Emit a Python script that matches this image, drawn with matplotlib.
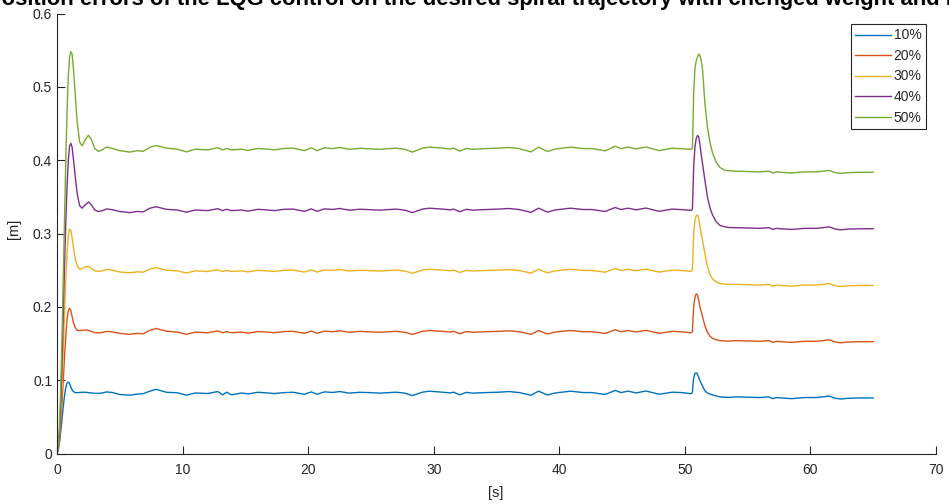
import numpy as np
import matplotlib
matplotlib.use("Agg")
import matplotlib.pyplot as plt

plt.rcParams['font.family'] = ['Liberation Sans', 'DejaVu Sans']

title_text = "Position errors of the LQG control on the desired spiral trajectory with chenged weight and mass"
series_labels = ["10%", "20%", "30%", "40%", "50%"]
colors = ["#0072BD", "#D95319", "#EDB120", "#7E2F8E", "#77AC30"]
x_ticks = [0, 10, 20, 30, 40, 50, 60, 70]
x_ticklabels = ["0", "10", "20", "30", "40", "50", "60", "70"]
y_ticks = [0, 0.1, 0.2, 0.3, 0.4, 0.5, 0.6]
y_ticklabels = ["0", "0.1", "0.2", "0.3", "0.4", "0.5", "0.6"]

t_early = [0, 0.1, 0.2, 0.3, 0.4, 0.5, 0.6, 0.7, 0.8, 0.9, 1.0, 1.1, 1.2, 1.3,
           1.45, 1.6, 1.8, 2.0, 2.25, 2.5, 2.75, 3.0]
t_mid = [3.3, 3.6, 3.95, 4.4, 5.0, 5.8, 6.4, 6.85, 7.4, 7.9, 8.7, 9.6, 10.3, 11.0,
         12.0, 12.8, 13.2, 13.5, 13.9, 14.7, 15.2, 16.0, 16.8, 17.3, 18.1, 18.8,
         19.7, 20.25, 20.7, 21.3, 21.95, 22.5, 23.3, 24.1, 24.9, 25.7, 27.0, 27.7,
         28.3, 29.1, 29.65, 30.7, 31.3, 31.6, 32.05, 32.6, 33.1, 34.2, 35.2, 36.0,
         36.8, 37.75, 38.35, 39.05, 39.7, 40.9, 41.9, 42.6, 43.65, 44.45, 44.9,
         45.5, 46.1, 46.9, 47.95, 49.0, 49.8, 50.5]
t_jump = [50.6, 50.65, 50.7, 50.8, 50.9, 51.0, 51.1, 51.2, 51.3, 51.4, 51.6, 51.8,
          52.0, 52.2, 52.5, 52.8, 53.2, 53.6]
t_late = [54.0, 55.0, 56.0, 56.7, 57.0, 57.3, 57.6, 58.5, 59.5, 60.5, 61.5, 62.0,
          62.4, 63.0, 64.0, 65.0]

err_10 = [0, 0.005, 0.015, 0.03, 0.047, 0.064, 0.079, 0.09, 0.096, 0.0975, 0.0955, 0.091,
          0.087, 0.0845, 0.083, 0.083, 0.0832, 0.0835, 0.0835, 0.083, 0.0825, 0.082,
          0.0820, 0.0825, 0.0840, 0.0832, 0.0805, 0.0795, 0.0810, 0.0815, 0.0850, 0.0875,
          0.0835, 0.0828, 0.0795, 0.0825, 0.0818, 0.0845, 0.0800, 0.0836, 0.0800, 0.0825,
          0.0812, 0.0835, 0.0825, 0.0818, 0.0830, 0.0835, 0.0808, 0.0840, 0.0808, 0.0840,
          0.0832, 0.0845, 0.0823, 0.0835, 0.0830, 0.0823, 0.0836, 0.0823, 0.0790, 0.0836,
          0.0850, 0.0836, 0.0826, 0.0836, 0.0800, 0.0833, 0.0823, 0.0831, 0.0836, 0.0845,
          0.0831, 0.0795, 0.0850, 0.0798, 0.0826, 0.0850, 0.0831, 0.0831, 0.0805, 0.0860,
          0.0831, 0.0850, 0.0826, 0.0852, 0.0808, 0.0836, 0.0830, 0.0815,
          0.0835, 0.095, 0.103, 0.109, 0.110, 0.1085, 0.104, 0.0995, 0.0957, 0.092,
          0.0855, 0.0825, 0.081, 0.0798, 0.0785, 0.0772, 0.0767, 0.0765,
          0.0773, 0.0768, 0.0763, 0.0773, 0.0748, 0.0763, 0.0758, 0.0748, 0.0763, 0.0763,
          0.0783, 0.0753, 0.0743, 0.0753, 0.0758, 0.0758]

err_20 = [0, 0.006, 0.02, 0.042, 0.07, 0.10, 0.132, 0.16, 0.183, 0.195, 0.198, 0.195,
          0.187, 0.179, 0.172, 0.168, 0.1676, 0.168, 0.1685, 0.168, 0.1665, 0.1648,
          0.1645, 0.1650, 0.1665, 0.1658, 0.1638, 0.1625, 0.1638, 0.1632, 0.1680, 0.1705,
          0.1668, 0.1655, 0.1625, 0.1655, 0.1647, 0.1671, 0.1647, 0.1663, 0.1647, 0.1655,
          0.1641, 0.1663, 0.1655, 0.1647, 0.1663, 0.1666, 0.1639, 0.1669, 0.1639, 0.1669,
          0.1661, 0.1673, 0.1653, 0.1665, 0.1659, 0.1653, 0.1666, 0.1653, 0.1623, 0.1666,
          0.1677, 0.1666, 0.1657, 0.1666, 0.1633, 0.1663, 0.1653, 0.1661, 0.1666, 0.1673,
          0.1661, 0.1625, 0.1677, 0.1629, 0.1657, 0.1677, 0.1661, 0.1661, 0.1637, 0.1687,
          0.1661, 0.1677, 0.1657, 0.1679, 0.1639, 0.1666, 0.1659, 0.1645,
          0.166, 0.185, 0.200, 0.213, 0.2176, 0.2165, 0.209, 0.200, 0.1935, 0.187,
          0.174, 0.165, 0.160, 0.157, 0.155, 0.154, 0.1535, 0.1532,
          0.154, 0.1535, 0.153, 0.154, 0.1515, 0.153, 0.1525, 0.1515, 0.153, 0.153,
          0.155, 0.152, 0.151, 0.152, 0.1525, 0.1525]

err_30 = [0, 0.007, 0.025, 0.055, 0.095, 0.14, 0.19, 0.235, 0.272, 0.297, 0.306, 0.304,
          0.295, 0.282, 0.266, 0.256, 0.2513, 0.252, 0.2545, 0.255, 0.252, 0.249,
          0.2485, 0.2490, 0.2510, 0.2500, 0.2475, 0.2465, 0.2478, 0.2472, 0.2515, 0.2535,
          0.2500, 0.2490, 0.2462, 0.2490, 0.2482, 0.2505, 0.2482, 0.2498, 0.2482, 0.2490,
          0.2476, 0.2498, 0.2490, 0.2482, 0.2498, 0.2501, 0.2474, 0.2504, 0.2474, 0.2504,
          0.2496, 0.2508, 0.2488, 0.2499, 0.2494, 0.2488, 0.2501, 0.2488, 0.2458, 0.2501,
          0.2512, 0.2501, 0.2492, 0.2501, 0.2469, 0.2498, 0.2488, 0.2496, 0.2501, 0.2508,
          0.2496, 0.2460, 0.2512, 0.2464, 0.2492, 0.2512, 0.2496, 0.2496, 0.2472, 0.2522,
          0.2496, 0.2512, 0.2492, 0.2514, 0.2474, 0.2501, 0.2494, 0.2485,
          0.250, 0.275, 0.30, 0.318, 0.324, 0.3254, 0.321, 0.310, 0.300, 0.2913,
          0.272, 0.2549, 0.244, 0.238, 0.234, 0.2315, 0.231, 0.2305,
          0.2307, 0.2302, 0.2297, 0.2307, 0.2282, 0.2297, 0.2292, 0.2282, 0.2297, 0.2297,
          0.2317, 0.2287, 0.2277, 0.2287, 0.2292, 0.2292]

err_40 = [0, 0.008, 0.03, 0.07, 0.125, 0.19, 0.255, 0.315, 0.365, 0.400, 0.419, 0.423,
          0.418, 0.403, 0.378, 0.355, 0.338, 0.3345, 0.339, 0.343, 0.339, 0.332,
          0.3300, 0.3310, 0.3335, 0.3325, 0.3300, 0.3285, 0.3300, 0.3295, 0.3345, 0.3365,
          0.3330, 0.3320, 0.3290, 0.3320, 0.3312, 0.3338, 0.3312, 0.3330, 0.3312, 0.3320,
          0.3305, 0.3330, 0.3320, 0.3312, 0.3330, 0.3333, 0.3302, 0.3336, 0.3302, 0.3336,
          0.3328, 0.3341, 0.3318, 0.3331, 0.3325, 0.3318, 0.3333, 0.3318, 0.3285, 0.3333,
          0.3345, 0.3333, 0.3322, 0.3333, 0.3297, 0.3330, 0.3318, 0.3327, 0.3333, 0.3341,
          0.3327, 0.3288, 0.3345, 0.3292, 0.3322, 0.3345, 0.3327, 0.3327, 0.3300, 0.3355,
          0.3327, 0.3345, 0.3322, 0.3347, 0.3303, 0.3333, 0.3325, 0.3315,
          0.333, 0.36, 0.39, 0.418, 0.429, 0.4336, 0.432, 0.422, 0.408, 0.396,
          0.372, 0.350, 0.335, 0.3254, 0.316, 0.311, 0.309, 0.308,
          0.308, 0.3075, 0.307, 0.308, 0.3055, 0.307, 0.3065, 0.3055, 0.307, 0.307,
          0.309, 0.306, 0.305, 0.306, 0.3065, 0.3065]

err_50 = [0, 0.01, 0.04, 0.09, 0.16, 0.24, 0.32, 0.40, 0.465, 0.515, 0.54, 0.548,
          0.545, 0.527, 0.49, 0.453, 0.425, 0.4195, 0.428, 0.434, 0.428, 0.416,
          0.4120, 0.4140, 0.4180, 0.4160, 0.4130, 0.4110, 0.4130, 0.4120, 0.4176, 0.4200,
          0.4164, 0.4150, 0.4113, 0.4150, 0.4140, 0.4170, 0.4140, 0.4160, 0.4140, 0.4150,
          0.4132, 0.4160, 0.4150, 0.4140, 0.4160, 0.4164, 0.4130, 0.4168, 0.4130, 0.4168,
          0.4158, 0.4173, 0.4148, 0.4162, 0.4155, 0.4148, 0.4164, 0.4148, 0.4110, 0.4164,
          0.4178, 0.4164, 0.4152, 0.4164, 0.4123, 0.4160, 0.4148, 0.4158, 0.4164, 0.4173,
          0.4158, 0.4113, 0.4178, 0.4118, 0.4152, 0.4178, 0.4158, 0.4158, 0.4127, 0.4190,
          0.4158, 0.4178, 0.4152, 0.4180, 0.4130, 0.4164, 0.4155, 0.4148,
          0.416, 0.45, 0.49, 0.525, 0.535, 0.540, 0.5446, 0.543, 0.536, 0.525,
          0.477, 0.445, 0.424, 0.410, 0.397, 0.390, 0.386, 0.3855,
          0.385, 0.3845, 0.384, 0.385, 0.3825, 0.384, 0.3835, 0.3825, 0.384, 0.384,
          0.386, 0.383, 0.382, 0.383, 0.3835, 0.3835]

time = np.array(t_early + t_mid + t_jump + t_late)
series = [err_10, err_20, err_30, err_40, err_50]

W, H = 949, 504
fig = plt.figure(figsize=(W / 100, H / 100), dpi=100)
ax = fig.add_axes([57 / W, (H - 453.5) / H, (936 - 57) / W, 440 / H])

for vals, lab, col in zip(series, series_labels, colors):
    ax.plot(time, np.array(vals), color=col, lw=1.0, label=lab)

axc = "#262626"
ax.set_xlim(0, 70)
ax.set_ylim(0, 0.6)
ax.set_xticks(x_ticks)
ax.set_xticklabels(x_ticklabels)
ax.set_yticks(y_ticks)
ax.set_yticklabels(y_ticklabels)
for s in ["top", "right"]:
    ax.spines[s].set_visible(False)
for s in ["left", "bottom"]:
    ax.spines[s].set_color(axc)
    ax.spines[s].set_linewidth(0.8)
ax.tick_params(axis="both", direction="in", length=6, width=0.8, colors=axc,
               labelsize=10, labelcolor=axc)
ax.tick_params(axis="x", pad=7)
ax.tick_params(axis="y", pad=3.5)

fig.text(14 / W, (H - 229) / H, "[m]", rotation=90, ha="center", va="center",
         fontsize=10.5, color=axc)
fig.text(496 / W, (H - 493) / H, "[s]", ha="center", va="center",
         fontsize=10.5, color=axc)
fig.text(-13 / W, (H - 4.5) / H, title_text, ha="left", va="baseline",
         fontsize=15.8, fontweight="bold", color="black")

leg = ax.legend(loc="upper right", bbox_to_anchor=(926 / W, (H - 24) / H),
                bbox_transform=fig.transFigure, borderaxespad=0, fancybox=False,
                fontsize=10, handlelength=2.6, handletextpad=0.15,
                labelspacing=0.47, borderpad=0.32, framealpha=1)
leg.get_frame().set_edgecolor(axc)
leg.get_frame().set_linewidth(0.8)
for txt in leg.get_texts():
    txt.set_color(axc)

fig.savefig("out.png", dpi=100)
